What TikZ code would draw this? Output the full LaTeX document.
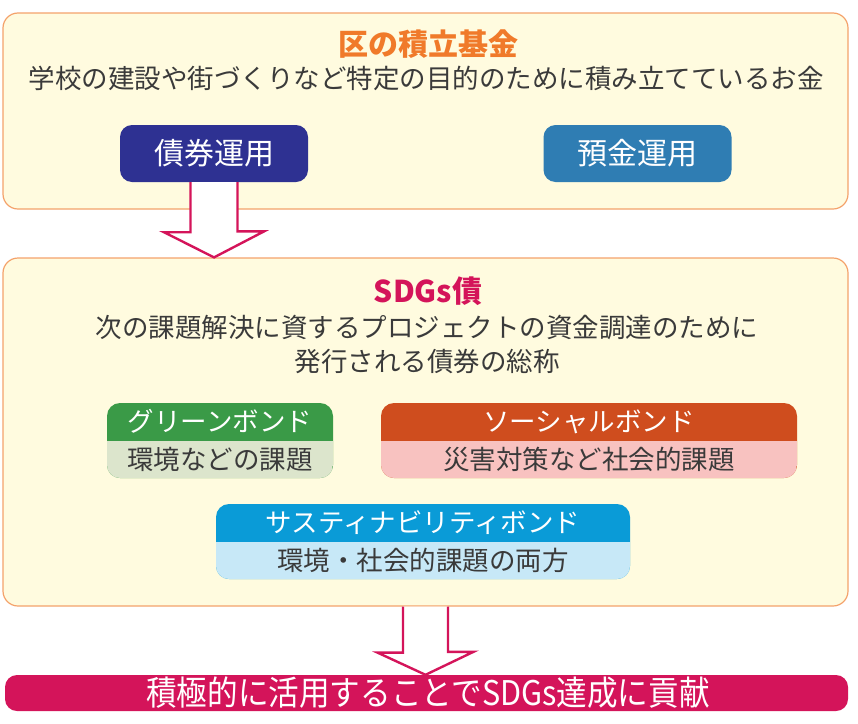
\documentclass[tikz,border=0pt]{standalone}
\usepackage{fontspec}
\setmainfont{Noto Sans CJK JP}
\newfontfamily\narrowjp[FakeStretch=0.9]{Noto Sans CJK JP}
\usepackage{tikz}

\definecolor{PanelFill}{HTML}{FFFBDF}
\definecolor{PanelLine}{HTML}{F4A26B}
\definecolor{TitleOrange}{HTML}{F07A2A}
\definecolor{Crimson}{HTML}{D4145A}
\definecolor{TextGray}{HTML}{3A3A3A}
\definecolor{NavyBtn}{HTML}{2E3192}
\definecolor{BlueBtn}{HTML}{2F7DB3}
\definecolor{GreenHead}{HTML}{3A9A47}
\definecolor{GreenBody}{HTML}{DCE5CC}
\definecolor{SocialHead}{HTML}{CF4D1E}
\definecolor{SocialBody}{HTML}{F8C2C0}
\definecolor{SusHead}{HTML}{0A9BD7}
\definecolor{SusBody}{HTML}{C7E8F7}

\tikzset{
    panel/.style={draw=PanelLine, line width=1.2pt, fill=PanelFill,
        rounded corners=15pt, inner sep=0pt},
    btn/.style={fill=#1, rounded corners=12pt, minimum width=188pt,
        minimum height=57pt, inner sep=0pt, text=white,
        font=\fontsize{30}{34}\selectfont},
    bondbox/.style 2 args={fill=#1, rounded corners=13pt,
        minimum height=75pt, inner sep=0pt,
        path picture={\fill[#2, sharp corners] (path picture bounding box.west)
            rectangle (path picture bounding box.south east);}},
    headtext/.style={text=white, inner sep=0pt,
        font=\fontsize{26.5}{30}\selectfont},
    bodytext/.style={text=TextGray, inner sep=0pt,
        font=\fontsize{26.5}{30}\selectfont},
    bigarrow/.style={draw=Crimson, fill=white, line width=2.4pt,
        line join=miter},
}

\begin{document}
\begin{tikzpicture}[x=1pt,y=-1pt]
    \useasboundingbox (0,0) rectangle (858,723);

    \node[panel, minimum width=845pt, minimum height=196pt]
        (kikin) at (425.5,111) {};
    \node[panel, minimum width=845pt, minimum height=348pt]
        (sdgs) at (425.5,432) {};

    \node[text=TitleOrange, inner sep=0pt,
        font=\fontsize{30}{34}\selectfont\bfseries]
        (kikintitle) at (428,44) {区の積立基金};
    \node[bodytext]
        (kikintext) at (426,78) {学校の建設や街づくりなど特定の目的のために積み立てているお金};

    \node[btn=NavyBtn] (saiken) at (214,153.5) {債券運用};
    \node[btn=BlueBtn] (yokin) at (637.5,153.5) {預金運用};

    \node[fill=Crimson, rounded corners=12pt, minimum width=843pt,
        minimum height=36pt, inner sep=0pt]
        (goal) at (426.5,693) {};

    \draw[bigarrow]
        ([xshift=-23.5pt]saiken.south) -- ++(0,50) -- ++(-26.5,0)
        -- (saiken.south |- sdgs.north) -- ++(50,-26) -- ++(-26.5,0)
        -- ([xshift=23.5pt]saiken.south);
    \draw[bigarrow]
        ([xshift=-22.5pt]sdgs.south) -- ++(0,46) -- ++(-25.5,0)
        -- (sdgs.south |- goal.north) -- ++(48,-23) -- ++(-25.5,0)
        -- ([xshift=22.5pt]sdgs.south);

    \node[text=Crimson, inner sep=0pt,
        font=\fontsize{30}{34}\selectfont\bfseries]
        (sdgstitle) at (428,291) {SDGs債};
    \node[bodytext, align=center, font=\fontsize{26.5}{34}\selectfont]
        (sdgstext) at (427,344)
        {次の課題解決に資するプロジェクトの資金調達のために\\発行される債券の総称};

    \node[bondbox={GreenHead}{GreenBody}, minimum width=226pt]
        (green) at (220,440.5) {};
    \node[headtext] at ([yshift=19pt]green.center) (greenhead) {グリーンボンド};
    \node[bodytext] at ([yshift=-19pt]green.center) (greenbody) {環境などの課題};

    \node[bondbox={SocialHead}{SocialBody}, minimum width=416pt]
        (social) at (589,440.5) {};
    \node[headtext] at ([yshift=19pt]social.center) (socialhead) {ソーシャルボンド};
    \node[bodytext] at ([yshift=-19pt]social.center) (socialbody) {災害対策など社会的課題};

    \node[bondbox={SusHead}{SusBody}, minimum width=414pt]
        (sus) at (423,541.5) {};
    \node[headtext] at ([yshift=19pt]sus.center) (sushead) {サスティナビリティボンド};
    \node[bodytext] at ([yshift=-19pt]sus.center) (susbody) {環境・社会的課題の両方};

    \node[text=white, inner sep=0pt, font=\fontsize{34}{36}\narrowjp]
        (goaltext) at (428,693) {積極的に活用することでSDGs達成に貢献};
\end{tikzpicture}
\end{document}
